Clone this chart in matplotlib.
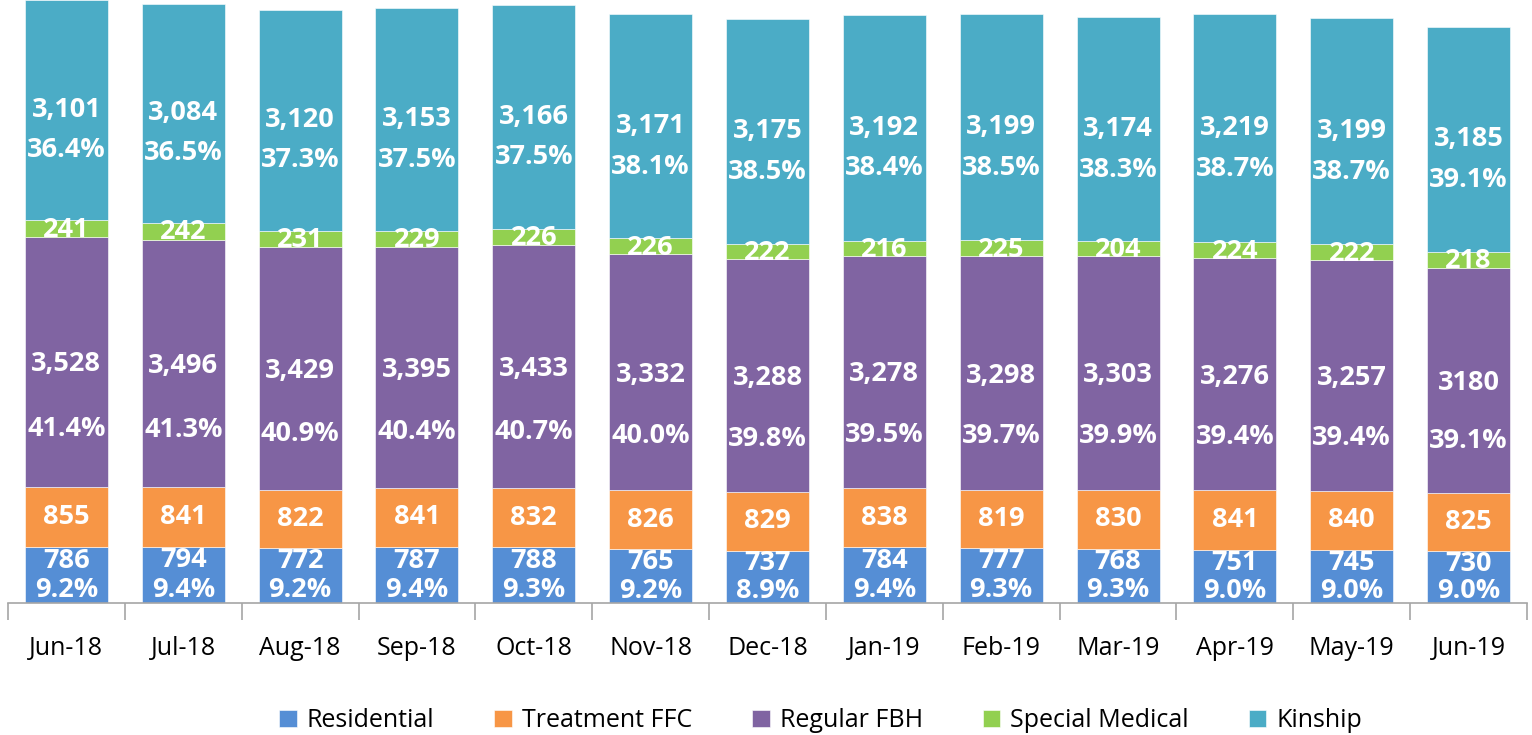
import matplotlib
matplotlib.use("Agg")
from matplotlib import pyplot as plt
import numpy as np

plt.rcParams['font.family'] = ['Open Sans', 'DejaVu Sans']

months = ["Jun-18", "Jul-18", "Aug-18", "Sep-18", "Oct-18", "Nov-18", "Dec-18",
          "Jan-19", "Feb-19", "Mar-19", "Apr-19", "May-19", "Jun-19"]

residential = [786, 794, 772, 787, 788, 765, 737, 784, 777, 768, 751, 745, 730]
treatment_ffc = [855, 841, 822, 841, 832, 826, 829, 838, 819, 830, 841, 840, 825]
regular_fbh = [3528, 3496, 3429, 3395, 3433, 3332, 3288, 3278, 3298, 3303, 3276, 3257, 3180]
special_medical = [241, 242, 231, 229, 226, 226, 222, 216, 225, 204, 224, 222, 218]
kinship = [3101, 3084, 3120, 3153, 3166, 3171, 3175, 3192, 3199, 3174, 3219, 3199, 3185]

residential_pct = ["9.2%", "9.4%", "9.2%", "9.4%", "9.3%", "9.2%", "8.9%",
                   "9.4%", "9.3%", "9.3%", "9.0%", "9.0%", "9.0%"]
regular_pct = ["41.4%", "41.3%", "40.9%", "40.4%", "40.7%", "40.0%", "39.8%",
               "39.5%", "39.7%", "39.9%", "39.4%", "39.4%", "39.1%"]
kinship_pct = ["36.4%", "36.5%", "37.3%", "37.5%", "37.5%", "38.1%", "38.5%",
               "38.4%", "38.5%", "38.3%", "38.7%", "38.7%", "39.1%"]
# the source prints the last Regular FBH count without a comma
regular_labels = ["3,528", "3,496", "3,429", "3,395", "3,433", "3,332", "3,288",
                  "3,278", "3,298", "3,303", "3,276", "3,257", "3180"]

series = [
    ("Residential", residential, "#558ED5"),
    ("Treatment FFC", treatment_ffc, "#F79646"),
    ("Regular FBH", regular_fbh, "#8064A2"),
    ("Special Medical", special_medical, "#92D050"),
    ("Kinship", kinship, "#4BACC6"),
]

fig = plt.figure(figsize=(15.32, 7.35), dpi=100)
ax = fig.add_axes([8 / 1532, 132 / 735, 1519 / 1532, 603 / 735])

x = np.arange(len(months))
width = 0.71
bottom = np.zeros(len(months))
bars = {}
for name, vals, color in series:
    vals = np.array(vals, dtype=float)
    ax.bar(x, vals, width, bottom=bottom, color=color, label=name,
           edgecolor='white', linewidth=0.4)
    bars[name] = (bottom.copy(), vals)
    bottom += vals

txt = dict(color='white', fontweight='bold', fontsize=19.5, ha='center', va='center')

def put(name, labels, frac):
    b, v = bars[name]
    for i in range(len(months)):
        ax.text(x[i], b[i] + v[i] * frac, labels[i], **txt)

put("Residential", [str(v) for v in residential], 0.76)
put("Residential", residential_pct, 0.23)
put("Treatment FFC", [str(v) for v in treatment_ffc], 0.5)
put("Regular FBH", regular_labels, 0.49)
put("Regular FBH", regular_pct, 0.23)
put("Special Medical", [str(v) for v in special_medical], 0.42)
put("Kinship", [f"{v:,}" for v in kinship], 0.5)
put("Kinship", kinship_pct, 0.32)

ax.set_xlim(-0.5, len(months) - 0.5)
ax.set_ylim(0, 8515)
ax.set_yticks([])
for s in ['top', 'right', 'left']:
    ax.spines[s].set_visible(False)
ax.spines['bottom'].set_color('#A6A6A6')
ax.spines['bottom'].set_linewidth(1.2)

ax.set_xticks(x)
ax.set_xticklabels(months, fontsize=18)
ax.tick_params(axis='x', which='major', length=0, pad=24)
ax.set_xticks(np.arange(len(months) + 1) - 0.5, minor=True)
ax.tick_params(axis='x', which='minor', length=12, color='#A6A6A6', width=1.2)

ax.legend(loc='center', bbox_to_anchor=(0.535, -0.195), ncol=5, frameon=False,
          fontsize=18, handlelength=0.7, handleheight=0.7, handletextpad=0.4,
          columnspacing=2.4)

fig.savefig("out.png", dpi=100)
